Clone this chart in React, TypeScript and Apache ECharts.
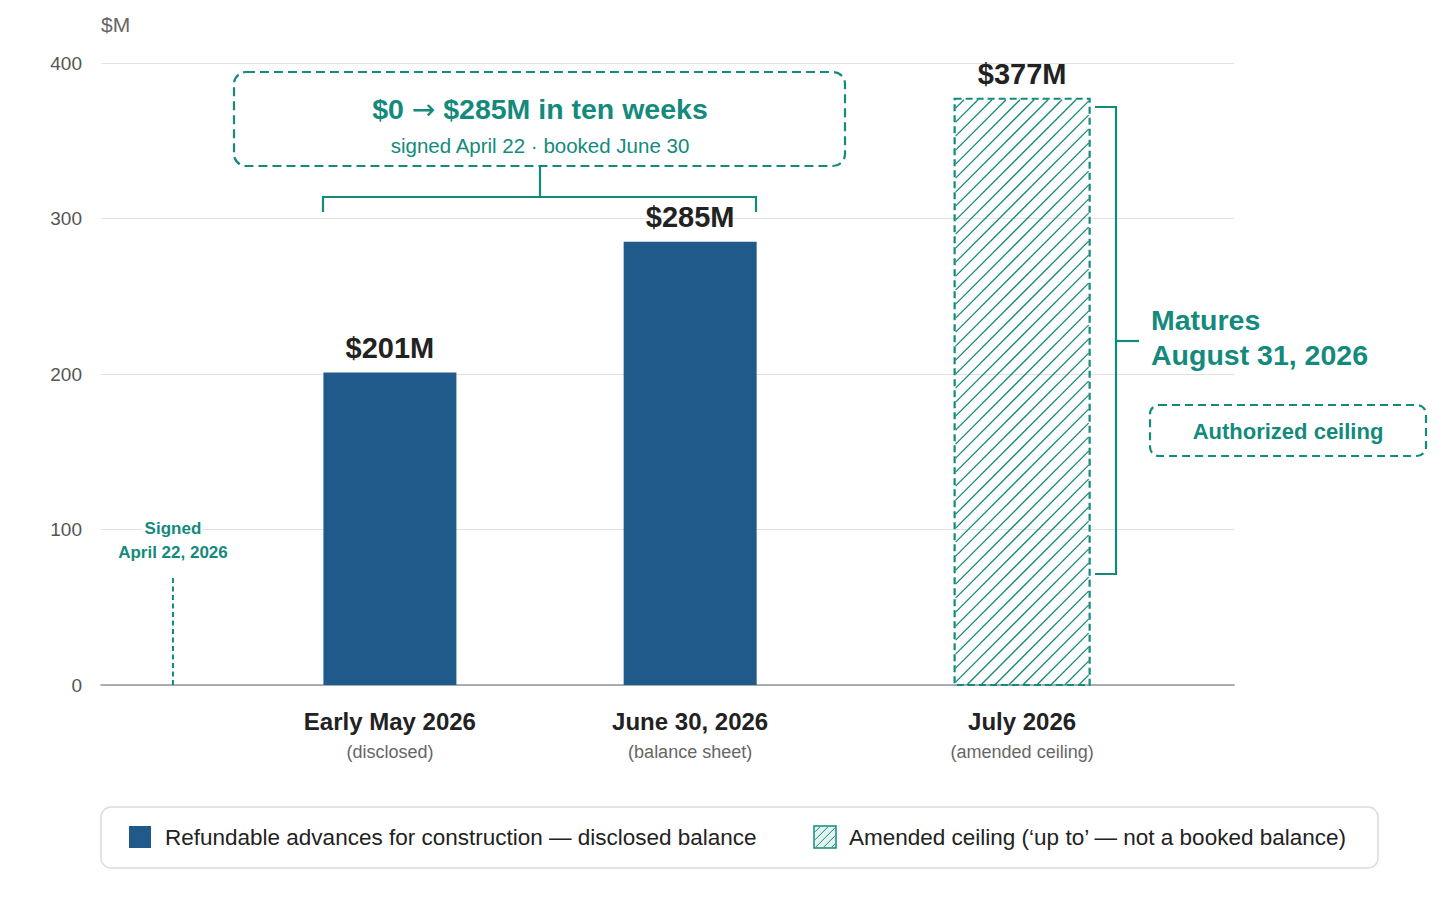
import React, { useEffect, useRef } from "react";
import * as echarts from "echarts";

// ---- data ----
const periods = ["Early May 2026", "June 30, 2026", "July 2026"];
const periodNotes = ["(disclosed)", "(balance sheet)", "(amended ceiling)"];
const periodPos = [25.5, 52.0, 81.3]; // position of each period on the (hidden) x scale, 0..100
const disclosedValues = [201, 285];
const ceilingValue = 377;
const valueLabels = ["$201M", "$285M", "$377M"];
const yTicks = [0, 100, 200, 300, 400];
const signedPos = 6.35;
const signedLabel = ["Signed", "April 22, 2026"];
const legendLabels = [
  "Refundable advances for construction \u2014 disclosed balance",
  "Amended ceiling (\u2018up to\u2019 \u2014 not a booked balance)",
];

// ---- styles ----
const FONT = "'Liberation Sans', Arial, Helvetica, sans-serif";
const TEAL = "#138a7b";
const BLUE = "#1f5a8a";
const DARK = "#222222";
const GRAY = "#666666";

function hatchLines(x0: number, y0: number, x1: number, y1: number, step: number, width: number, color: string) {
  const out: any[] = [];
  for (let c = x0 + y0 + step * 0.6; c < x1 + y1; c += step) {
    const ax = Math.max(x0, c - y1);
    const bx = Math.min(x1, c - y0);
    if (bx <= ax) continue;
    out.push({
      type: "line",
      silent: true,
      shape: { x1: ax, y1: c - ax, x2: bx, y2: c - bx },
      style: { stroke: color, lineWidth: width },
    });
  }
  return out;
}

export default function App() {
  const ref = useRef<HTMLDivElement>(null);

  useEffect(() => {
    if (!ref.current) return;
    const chart = echarts.init(ref.current, null, { renderer: "svg" });

    const option: any = {
      animation: false,
      backgroundColor: "#ffffff",
      textStyle: { fontFamily: FONT },
      grid: { left: 101, right: 222, top: 63, bottom: 213, containLabel: false },
      xAxis: {
        type: "value",
        min: 0,
        max: 100,
        axisLine: { show: true, lineStyle: { color: "#8e969d", width: 1.6 } },
        axisTick: { show: false },
        axisLabel: { show: false },
        splitLine: { show: false },
      },
      yAxis: {
        type: "value",
        min: yTicks[0],
        max: yTicks[yTicks.length - 1],
        interval: 100,
        name: "$M",
        nameLocation: "end",
        nameGap: 28,
        nameTextStyle: { align: "left", fontSize: 21, color: GRAY, fontFamily: FONT },
        axisLine: { show: false },
        axisTick: { show: false },
        axisLabel: { fontSize: 19, color: "#555", margin: 19, fontFamily: FONT },
        splitLine: { lineStyle: { color: "#e2e2e2", width: 1.2 } },
      },
      series: [
        {
          type: "bar",
          name: legendLabels[0],
          data: disclosedValues.map((v, i) => [periodPos[i], v]),
          barWidth: 133,
          itemStyle: { color: BLUE },
          label: {
            show: true,
            position: "top",
            distance: 10,
            formatter: (p: any) => valueLabels[p.dataIndex],
            fontSize: 29,
            fontWeight: "bold",
            color: DARK,
            fontFamily: FONT,
          },
          z: 3,
        },
        {
          type: "custom",
          name: legendLabels[1],
          clip: false,
          data: [[periodPos[2], ceilingValue]],
          renderItem: (params: any, api: any) => {
            const x = api.value(0);
            const v = api.value(1);
            const top = api.coord([x, v]);
            const bottom = api.coord([x, 0]);
            const w = 135;
            const x0 = top[0] - w / 2;
            const x1 = top[0] + w / 2;
            const y0 = top[1];
            const y1 = bottom[1];
            return {
              type: "group",
              children: [
                {
                  type: "rect",
                  shape: { x: x0, y: y0, width: w, height: y1 - y0 },
                  style: { fill: "rgba(255,255,255,0)", stroke: TEAL, lineWidth: 2.2, lineDash: [7, 4] },
                },
                ...hatchLines(x0 + 1, y0 + 1, x1 - 1, y1, 14, 1.3, TEAL),
                {
                  type: "text",
                  style: {
                    text: valueLabels[2],
                    x: top[0],
                    y: y0 - 25,
                    align: "center",
                    verticalAlign: "middle",
                    fontSize: 29,
                    fontWeight: "bold",
                    fontFamily: FONT,
                    fill: DARK,
                  },
                },
              ],
            };
          },
          z: 3,
        },
        {
          type: "custom",
          name: "periods",
          clip: false,
          silent: true,
          data: periods.map((p, i) => [periodPos[i], 0]),
          renderItem: (params: any, api: any) => {
            const pt = api.coord([api.value(0), 0]);
            const i = params.dataIndex;
            return {
              type: "group",
              children: [
                {
                  type: "text",
                  style: {
                    text: periods[i],
                    x: pt[0],
                    y: pt[1] + 36,
                    align: "center",
                    verticalAlign: "middle",
                    fontSize: 24,
                    fontWeight: "bold",
                    fontFamily: FONT,
                    fill: DARK,
                  },
                },
                {
                  type: "text",
                  style: {
                    text: periodNotes[i],
                    x: pt[0],
                    y: pt[1] + 67,
                    align: "center",
                    verticalAlign: "middle",
                    fontSize: 18,
                    fontFamily: FONT,
                    fill: GRAY,
                  },
                },
              ],
            };
          },
        },
        {
          type: "custom",
          name: "signed",
          clip: false,
          silent: true,
          data: [[signedPos, 0]],
          renderItem: (params: any, api: any) => {
            const pt = api.coord([api.value(0), 0]);
            return {
              type: "group",
              children: [
                {
                  type: "line",
                  shape: { x1: pt[0], y1: pt[1], x2: pt[0], y2: pt[1] - 110 },
                  style: { stroke: TEAL, lineWidth: 2, lineDash: [5, 3.5] },
                },
                {
                  type: "text",
                  style: {
                    text: signedLabel[0],
                    x: pt[0],
                    y: pt[1] - 157,
                    align: "center",
                    verticalAlign: "middle",
                    fontSize: 17,
                    fontWeight: "bold",
                    fontFamily: FONT,
                    fill: TEAL,
                    stroke: "#ffffff",
                    lineWidth: 4,
                  },
                },
                {
                  type: "text",
                  style: {
                    text: signedLabel[1],
                    x: pt[0],
                    y: pt[1] - 133,
                    align: "center",
                    verticalAlign: "middle",
                    fontSize: 17,
                    fontWeight: "bold",
                    fontFamily: FONT,
                    fill: TEAL,
                  },
                },
              ],
            };
          },
        },
      ],
      graphic: [
        // top callout box
        {
          type: "rect",
          shape: { x: 234, y: 72, width: 611, height: 94, r: 12 },
          style: { fill: "#ffffff", stroke: TEAL, lineWidth: 2.2, lineDash: [9, 5] },
          z: 10,
        },
        {
          type: "text",
          style: {
            text: "{b|$0 }{a|\u2192}{b| $285M in ten weeks}",
            x: 540,
            y: 109,
            align: "center",
            verticalAlign: "middle",
            rich: {
              b: { fontSize: 28.5, fontWeight: "bold", fontFamily: FONT, fill: TEAL, color: TEAL },
              a: { fontSize: 28, fontFamily: "'DejaVu Sans', sans-serif", fill: TEAL, color: TEAL },
            },
          },
          z: 11,
        },
        {
          type: "text",
          style: {
            text: "signed April 22 \u00b7 booked June 30",
            x: 540,
            y: 145,
            align: "center",
            verticalAlign: "middle",
            fontSize: 20.5,
            fontFamily: FONT,
            fill: TEAL,
          },
          z: 11,
        },
        // top bracket
        {
          type: "polyline",
          shape: { points: [[323, 212], [323, 197], [756, 197], [756, 212]] },
          style: { stroke: TEAL, lineWidth: 2.2, fill: "none" },
          z: 10,
        },
        {
          type: "line",
          shape: { x1: 540, y1: 166, x2: 540, y2: 197 },
          style: { stroke: TEAL, lineWidth: 2.2 },
          z: 10,
        },
        // right bracket
        {
          type: "polyline",
          shape: { points: [[1095, 107], [1116, 107], [1116, 574], [1095, 574]] },
          style: { stroke: TEAL, lineWidth: 2.2, fill: "none" },
          z: 10,
        },
        {
          type: "line",
          shape: { x1: 1116, y1: 341, x2: 1139, y2: 341 },
          style: { stroke: TEAL, lineWidth: 2.2 },
          z: 10,
        },
        {
          type: "text",
          style: {
            text: "Matures",
            x: 1151,
            y: 320,
            align: "left",
            verticalAlign: "middle",
            fontSize: 28.5,
            fontWeight: "bold",
            fontFamily: FONT,
            fill: TEAL,
          },
          z: 11,
        },
        {
          type: "text",
          style: {
            text: "August 31, 2026",
            x: 1151,
            y: 355,
            align: "left",
            verticalAlign: "middle",
            fontSize: 28.5,
            fontWeight: "bold",
            fontFamily: FONT,
            fill: TEAL,
          },
          z: 11,
        },
        {
          type: "rect",
          shape: { x: 1150, y: 405, width: 276, height: 51, r: 9 },
          style: { fill: "#ffffff", stroke: TEAL, lineWidth: 2.2, lineDash: [8, 5] },
          z: 10,
        },
        {
          type: "text",
          style: {
            text: "Authorized ceiling",
            x: 1288,
            y: 431,
            align: "center",
            verticalAlign: "middle",
            fontSize: 22,
            fontWeight: "bold",
            fontFamily: FONT,
            fill: TEAL,
          },
          z: 11,
        },
        // legend
        {
          type: "rect",
          shape: { x: 101, y: 807, width: 1277, height: 61, r: 10 },
          style: { fill: "#ffffff", stroke: "#dcdcdc", lineWidth: 1.5 },
          z: 10,
        },
        {
          type: "rect",
          shape: { x: 129, y: 826, width: 22, height: 22 },
          style: { fill: BLUE },
          z: 11,
        },
        {
          type: "text",
          style: {
            text: legendLabels[0],
            x: 165,
            y: 837,
            align: "left",
            verticalAlign: "middle",
            fontSize: 22.5,
            fontFamily: FONT,
            fill: DARK,
          },
          z: 11,
        },
        {
          type: "rect",
          shape: { x: 814, y: 826, width: 22, height: 22 },
          style: { fill: "#e4f3f0", stroke: TEAL, lineWidth: 1.5 },
          z: 11,
        },
        ...hatchLines(815, 827, 835, 847, 8, 1, TEAL).map((l) => ({ ...l, z: 12 })),
        {
          type: "text",
          style: {
            text: legendLabels[1],
            x: 849,
            y: 837,
            align: "left",
            verticalAlign: "middle",
            fontSize: 22.5,
            fontFamily: FONT,
            fill: DARK,
          },
          z: 11,
        },
      ],
    };

    chart.setOption(option);
    return () => chart.dispose();
  }, []);

  return (
    <div
      ref={ref}
      style={{ position: "fixed", left: 0, top: 0, width: 1456, height: 898, background: "#ffffff" }}
    />
  );
}
